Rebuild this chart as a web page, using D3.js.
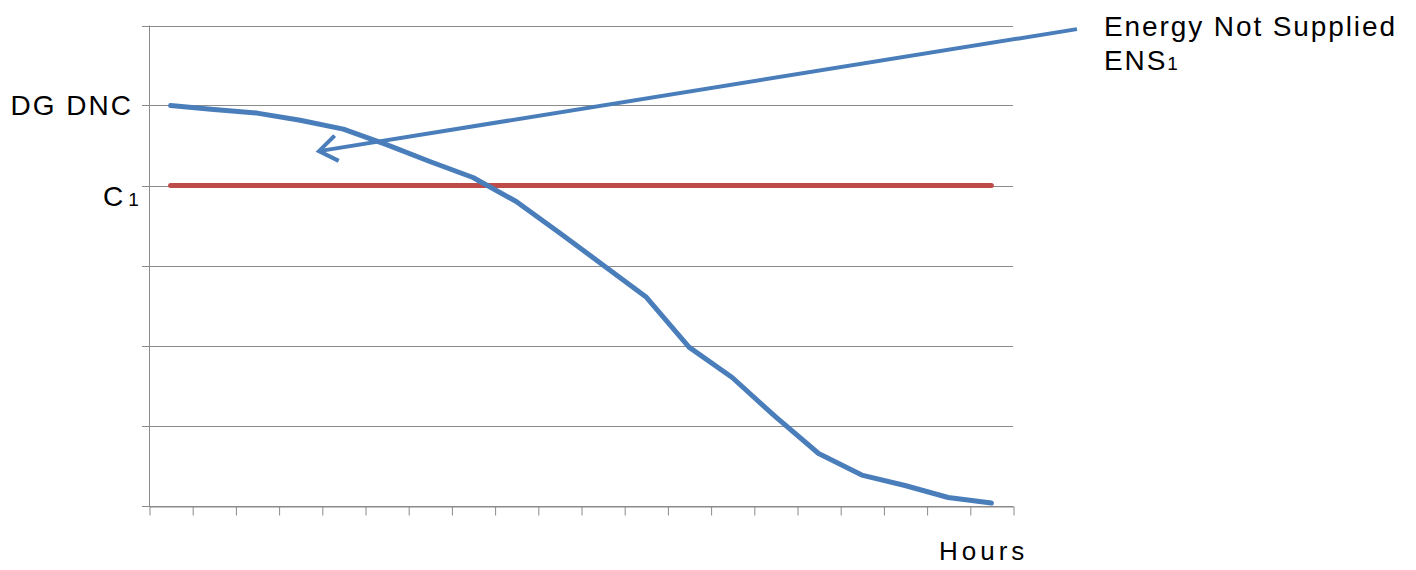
<!DOCTYPE html>
<html>
<head>
<meta charset="utf-8">
<script src="https://cdn.jsdelivr.net/npm/d3@7"></script>
<style>
  html, body { margin: 0; padding: 0; background: #ffffff; }
  svg text { font-family: "Liberation Sans", Arial, sans-serif; fill: #000; }
</style>
</head>
<body>
<svg id="chart" width="1416" height="570"></svg>
<script>
// Hourly load-duration values (in y-axis units, 0..6), one per hour slot
const hours = d3.range(1, 21);
const loadDuration = [5.00, 4.95, 4.905, 4.815, 4.705, 4.51, 4.30, 4.10, 3.80, 3.41,
                      3.01, 2.61, 1.98, 1.60, 1.11, 0.65, 0.38, 0.25, 0.10, 0.03];
// Capacity level C1, constant over all hours
const capacity = hours.map(() => 4.0);
// Labelled y levels
const yLabels = [
  { value: 5, main: "DG DNC", sub: "" },
  { value: 4, main: "C", sub: "1" }
];
const yGridValues = d3.range(0, 7);
// Annotation arrow in data space: [x in hour slots, y value]
const arrowFrom = [21.48, 5.955];
const arrowTo = [3.935, 4.43];

const svg = d3.select("#chart");
const plot = { left: 149, right: 1013, top: 25.5, bottom: 505.5 };

// x: continuous hour-slot position (slot i spans i..i+1)
const x = d3.scaleLinear().domain([0, hours.length]).range([plot.left, plot.right]);
const y = d3.scaleLinear().domain([0, 6]).range([plot.bottom, plot.top]);
const xc = i => x(i + 0.5);

const gridColor = "#8a8a8a";
const blue = "#4a7ebb";
const red = "#be4b48";

// horizontal gridlines with short left ticks
svg.append("g")
  .selectAll("line")
  .data(yGridValues)
  .join("line")
  .attr("x1", plot.left - 7)
  .attr("x2", plot.right)
  .attr("y1", d => Math.round(y(d)) + 0.5)
  .attr("y2", d => Math.round(y(d)) + 0.5)
  .attr("stroke", gridColor)
  .attr("stroke-width", 1);

// vertical axis line
svg.append("line")
  .attr("x1", plot.left + 0.5).attr("x2", plot.left + 0.5)
  .attr("y1", plot.top).attr("y2", plot.bottom + 0.5)
  .attr("stroke", gridColor).attr("stroke-width", 1);

// bottom axis with ticks at slot boundaries, no labels
const xAxis = d3.axisBottom(x)
  .tickValues(d3.range(0, hours.length + 1))
  .tickFormat("")
  .tickSize(9)
  .tickSizeOuter(0);
const gx = svg.append("g")
  .attr("transform", `translate(0.5,${Math.round(plot.bottom) + 0.5})`)
  .call(xAxis);
gx.selectAll("line, path").attr("stroke", gridColor).attr("stroke-width", 1);

// y level labels (right edge of the main text at x=131)
yLabels.forEach(l => {
  const t = svg.append("text")
    .style("font-size", "28px")
    .style("letter-spacing", "2px");
  if (l.sub) {
    t.attr("x", 103).attr("y", y(l.value) + 20);
    t.append("tspan").text(l.main);
    t.append("tspan").attr("dx", 3).style("font-size", "19px").text(l.sub);
  } else {
    t.attr("x", 133).attr("y", y(l.value) + 9.5).attr("text-anchor", "end").text(l.main);
  }
});

// x axis title
svg.append("text")
  .attr("x", 939)
  .attr("y", 559.5)
  .style("font-size", "26px")
  .style("letter-spacing", "4px")
  .text("Hours");

// capacity line
const line = d3.line().x((d, i) => xc(i)).y(d => y(d));
svg.append("path")
  .datum(capacity)
  .attr("d", line)
  .attr("fill", "none")
  .attr("stroke", red)
  .attr("stroke-width", 5)
  .attr("stroke-linecap", "round");

// load-duration curve
svg.append("path")
  .datum(loadDuration)
  .attr("d", line)
  .attr("fill", "none")
  .attr("stroke", blue)
  .attr("stroke-width", 5)
  .attr("stroke-linecap", "round")
  .attr("stroke-linejoin", "round");

// annotation arrow pointing at the area under the curve
const ax1 = x(arrowFrom[0]), ay1 = y(arrowFrom[1]);
const ax2 = x(arrowTo[0]), ay2 = y(arrowTo[1]);
const ang = Math.atan2(ay1 - ay2, ax1 - ax2);
const headLen = 22, headSpread = 0.62;
const head = [ang - headSpread, ang + headSpread].map(a =>
  [ax2 + headLen * Math.cos(a), ay2 + headLen * Math.sin(a)]);
svg.append("line")
  .attr("x1", ax1).attr("y1", ay1).attr("x2", ax2).attr("y2", ay2)
  .attr("stroke", blue).attr("stroke-width", 4);
svg.append("path")
  .attr("d", `M${head[0][0]},${head[0][1]}L${ax2},${ay2}L${head[1][0]},${head[1][1]}`)
  .attr("fill", "none")
  .attr("stroke", blue).attr("stroke-width", 4)
  .attr("stroke-linejoin", "miter");

// annotation text
svg.append("text")
  .attr("x", 1104).attr("y", 36)
  .style("font-size", "28px")
  .style("letter-spacing", "1.9px")
  .text("Energy Not Supplied");
const ens = svg.append("text")
  .attr("x", 1104).attr("y", 69.5)
  .style("font-size", "28px")
  .style("letter-spacing", "1.9px");
ens.append("tspan").text("ENS");
ens.append("tspan").style("font-size", "19px").text("1");
</script>
</body>
</html>
